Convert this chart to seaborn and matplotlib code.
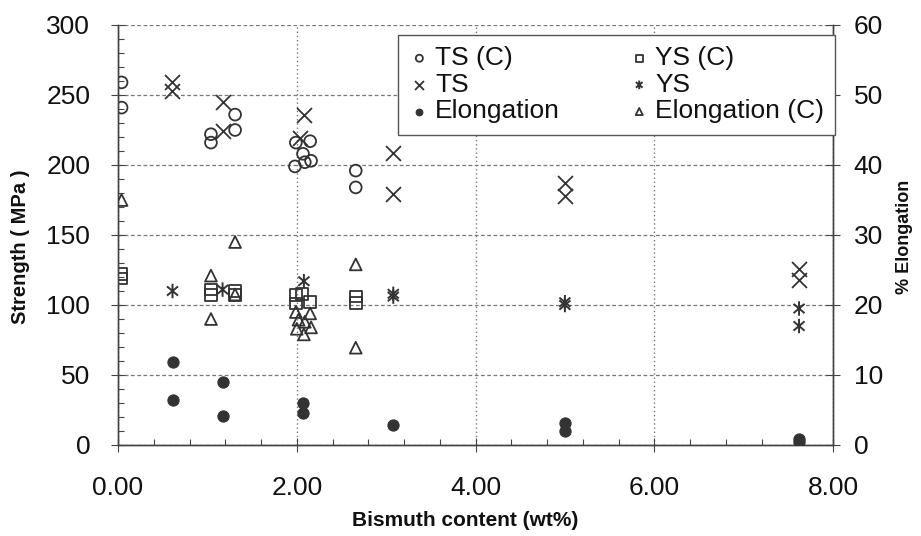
import matplotlib
matplotlib.use("Agg")
import numpy as np
import pandas as pd
import seaborn as sns
import matplotlib.pyplot as plt
from matplotlib.ticker import MultipleLocator
from matplotlib.path import Path

# ---------------- data ----------------
ts_c_x = [0.04, 0.04, 1.04, 1.04, 1.31, 1.31, 1.99, 2.15, 2.07, 1.98, 2.09, 2.16, 2.66, 2.66]
ts_c_y = [259, 241, 222, 216, 236, 225, 216, 217, 208, 199, 202, 203, 196, 184]

ts_x = [0.60, 0.60, 1.17, 1.17, 2.08, 2.04, 3.08, 3.08, 5.00, 5.00, 7.62, 7.62]
ts_y = [259.5, 252.5, 245, 224, 235.5, 219, 208.5, 179.5, 187, 177.5, 126, 118]

ys_c_x = [0.04, 0.04, 1.04, 1.04, 1.31, 1.31, 1.99, 1.99, 2.15, 2.06, 2.66, 2.66]
ys_c_y = [122, 119, 111, 107, 110, 107, 107, 101, 102, 108, 106, 101.5]

ys_x = [0.61, 1.17, 2.08, 3.08, 3.08, 5.00, 5.00, 7.62, 7.62]
ys_y = [110, 111, 117, 108, 106, 102, 100, 97.5, 85]

el_x = [0.61, 0.61, 1.17, 1.17, 2.07, 2.07, 3.08, 5.00, 5.00, 7.62, 7.62]
el_y = [11.8, 6.5, 9.0, 4.2, 6.0, 4.6, 2.8, 3.1, 2.0, 0.5, 0.8]

el_c_x = [0.04, 1.04, 1.04, 1.31, 1.31, 1.99, 2.15, 2.02, 2.09, 2.16, 2.00, 2.08, 2.66, 2.66]
el_c_y = [35.0, 24.2, 18.0, 29.0, 21.5, 19.0, 18.8, 17.9, 17.6, 16.8, 16.6, 15.8, 25.8, 13.9]

x_ticks = [0.0, 2.0, 4.0, 6.0, 8.0]
x_ticklabels = ["0.00", "2.00", "4.00", "6.00", "8.00"]
y_ticks = [0, 50, 100, 150, 200, 250, 300]
y2_ticks = [0, 10, 20, 30, 40, 50, 60]

# ---------------- style ----------------
sns.set_style("ticks")
plt.rcParams["font.family"] = ["Liberation Sans", "DejaVu Sans"]
INK = "#333333"
AX = "#444444"

# asterisk marker: vertical bar plus an X
_ang = np.deg2rad([90, 270, 40, 220, 140, 320])
_verts, _codes = [], []
for a, b in zip(_ang[::2], _ang[1::2]):
    _verts += [(np.cos(a), np.sin(a)), (np.cos(b), np.sin(b))]
    _codes += [Path.MOVETO, Path.LINETO]
ASTER = Path(_verts, _codes)

fig = plt.figure(figsize=(9.21, 5.36), dpi=100)
ax = fig.add_axes([118 / 921, 1 - 445 / 536, 715 / 921, 420 / 536])
ax2 = ax.twinx()

S = 72
sns.scatterplot(x=ts_c_x, y=ts_c_y, marker="o", s=S, facecolor="none", edgecolor=INK,
                linewidth=1.3, ax=ax, label="TS (C)", legend=False, zorder=4)
sns.scatterplot(x=ts_x, y=ts_y, marker="x", s=S * 1.6, color=INK,
                linewidth=1.3, ax=ax, label="TS", legend=False, zorder=4)
sns.scatterplot(x=ys_c_x, y=ys_c_y, marker="s", s=S, facecolor="none", edgecolor=INK,
                linewidth=1.3, ax=ax, label="YS (C)", legend=False, zorder=4)
sns.scatterplot(x=ys_x, y=ys_y, marker=ASTER, s=S * 1.5, facecolor="none", edgecolor=INK,
                linewidth=1.4, ax=ax, label="YS", legend=False, zorder=4)
sns.scatterplot(x=el_x, y=el_y, marker="o", s=S * 0.9, color=INK, edgecolor=INK,
                linewidth=0.8, ax=ax2, label="Elongation", legend=False, zorder=4)
sns.scatterplot(x=el_c_x, y=el_c_y, marker="^", s=S, facecolor="none", edgecolor=INK,
                linewidth=1.3, ax=ax2, label="Elongation (C)", legend=False, zorder=4)

# ---------------- axes ----------------
ax.set_xlim(0, 8)
ax.set_ylim(0, 300)
ax2.set_ylim(0, 60)
ax.set_xticks(x_ticks)
ax.set_xticklabels(x_ticklabels)
ax.set_yticks(y_ticks)
ax2.set_yticks(y2_ticks)
ax.xaxis.set_minor_locator(MultipleLocator(0.4))
ax.yaxis.set_minor_locator(MultipleLocator(10))

for a in (ax, ax2):
    a.spines["top"].set_visible(False)
    for s in ("left", "right", "bottom"):
        a.spines[s].set_color(AX)
        a.spines[s].set_linewidth(1.0)

ax.tick_params(axis="both", which="major", direction="inout", length=10, width=0.8,
               color=AX, labelsize=19, labelcolor="#111111")
ax.tick_params(axis="x", which="major", pad=17)
ax.tick_params(axis="y", which="major", pad=15)
ax.tick_params(axis="both", which="minor", direction="in", length=4, width=0.8, color=AX)
ax2.tick_params(axis="y", which="major", direction="inout", length=10, width=0.8,
                color=AX, labelsize=19, labelcolor="#111111", pad=10)

# grid
ax.yaxis.grid(True, which="major", linestyle=(0, (3, 2)), color="#777777", linewidth=0.9)
ax.xaxis.grid(True, which="major", linestyle=(0, (1, 2)), color="#777777", linewidth=1.0)
ax.set_axisbelow(True)

ax.set_xlabel("Bismuth content (wt%)", fontsize=15, fontweight="bold", color="#111111")
ax.set_ylabel("Strength ( MPa )", fontsize=14.5, fontweight="bold", color="#111111")
ax2.set_ylabel("% Elongation", fontsize=13, fontweight="bold", color="#111111")
ax.xaxis.set_label_coords(0.485, -0.179)
ax.xaxis.label.set_va("center")
ax.yaxis.set_label_coords(-0.137, 0.471)
ax.yaxis.label.set_va("center")
ax2.yaxis.set_label_coords(1.10, 0.495)
ax2.yaxis.label.set_va("center")

# legend
h1, l1 = ax.get_legend_handles_labels()
h2, l2 = ax2.get_legend_handles_labels()
hd = dict(zip(l1 + l2, h1 + h2))
order = ["TS (C)", "TS", "Elongation", "YS (C)", "YS", "Elongation (C)"]
leg = ax2.legend([hd[k] for k in order], order, ncol=2, loc="upper right",
                 bbox_to_anchor=(1.003, 0.976),
                 fontsize=19, markerscale=0.6, frameon=True, fancybox=False,
                 edgecolor="#555555", framealpha=1, borderpad=0.42, labelspacing=0.1,
                 handletextpad=0.2, handlelength=0.8, columnspacing=2.6, borderaxespad=0)
leg.get_frame().set_linewidth(1.0)
for t in leg.get_texts():
    t.set_color("#111111")

fig.savefig("out.png", dpi=100)
